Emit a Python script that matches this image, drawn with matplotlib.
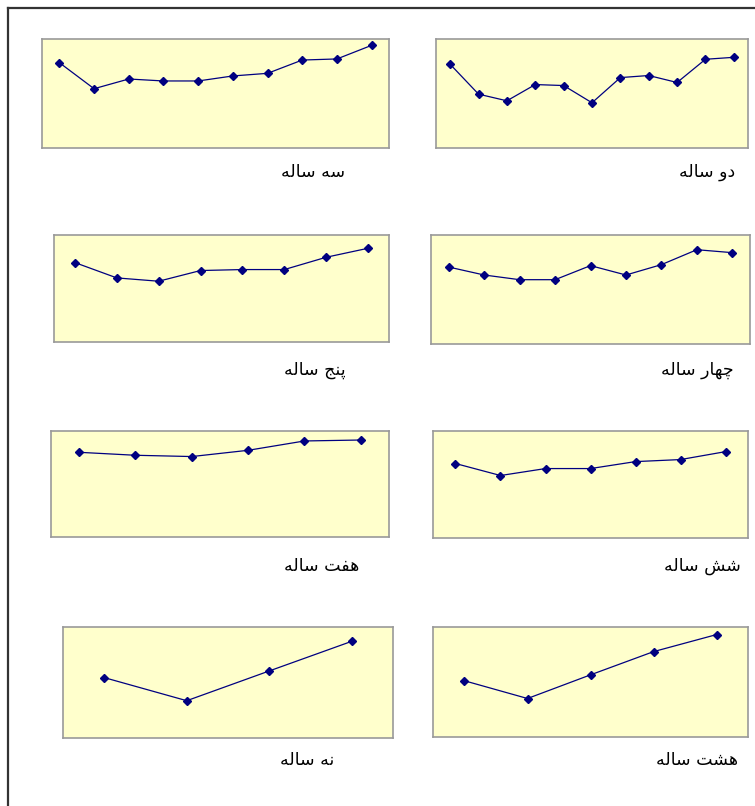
import matplotlib.pyplot as plt
from matplotlib.lines import Line2D

# ----------------------------------
# Data (0-100 scale of each panel)
# ----------------------------------
labels = ["سه ساله", "دو ساله", "پنج ساله", "چهار ساله",
          "هفت ساله", "شش ساله", "نه ساله", "هشت ساله"]

three_year = [78.3, 54.4, 63.3, 61.5, 61.5, 66.1, 68.5, 80.7, 81.7, 94.2]
two_year = [76.8, 49.4, 43.3, 58.2, 57.3, 41.5, 64.6, 66.5, 60.1, 81.4, 83.2]
five_year = [74.2, 59.9, 56.8, 66.8, 67.7, 67.7, 79.2, 87.6]
four_year = [70.6, 63.3, 59.0, 59.0, 71.9, 63.3, 72.8, 86.5, 83.8]
seven_year = [79.9, 77.1, 75.9, 81.8, 90.6, 91.5]
six_year = [69.6, 58.4, 64.9, 64.9, 71.4, 73.3, 80.7]
nine_year = [54.4, 33.6, 60.4, 87.1]
eight_year = [51.1, 35.0, 56.5, 77.6, 93.1]

series = [three_year, two_year, five_year, four_year,
          seven_year, six_year, nine_year, eight_year]

# panel boxes in pixels: left, top, right, bottom  / label centre x, y
boxes = [(42, 39, 389, 148), (436, 39, 748, 148),
         (54, 235, 389, 342), (431, 235, 750, 344),
         (51, 431, 389, 537), (433, 431, 748, 538),
         (63, 627, 393, 738), (433, 627, 748, 737)]
label_pos = [(313, 172), (707, 172), (315, 370), (697, 370),
             (322, 566), (702, 566), (307, 760), (697, 760)]

W, H = 755, 806

# ----------------------------------
# simple Persian shaping (matplotlib has no RTL / joining support)
# forms: isolated, final, initial, medial
# ----------------------------------
forms = {
    "ا": ("\uFE8D", "\uFE8E", None, None),
    "د": ("\uFEA9", "\uFEAA", None, None),
    "ر": ("\uFEAD", "\uFEAE", None, None),
    "و": ("\uFEED", "\uFEEE", None, None),
    "ل": ("\uFEDD", "\uFEDE", "\uFEDF", "\uFEE0"),
    "س": ("\uFEB1", "\uFEB2", "\uFEB3", "\uFEB4"),
    "ش": ("\uFEB5", "\uFEB6", "\uFEB7", "\uFEB8"),
    "ه": ("\uFEE9", "\uFEEA", "\uFEEB", "\uFEEC"),
    "ن": ("\uFEE5", "\uFEE6", "\uFEE7", "\uFEE8"),
    "ج": ("\uFE9D", "\uFE9E", "\uFE9F", "\uFEA0"),
    "ت": ("\uFE95", "\uFE96", "\uFE97", "\uFE98"),
    "ف": ("\uFED1", "\uFED2", "\uFED3", "\uFED4"),
    "پ": ("\uFB56", "\uFB57", "\uFB58", "\uFB59"),
    "چ": ("\uFB7A", "\uFB7B", "\uFB7C", "\uFB7D"),
}


def shape(text):
    out = []
    for i, ch in enumerate(text):
        if ch not in forms:
            out.append(ch)
            continue
        prev = text[i - 1] if i > 0 else " "
        nxt = text[i + 1] if i < len(text) - 1 else " "
        join_prev = prev in forms and forms[prev][2] is not None
        join_next = nxt in forms and forms[ch][2] is not None
        iso, fin, ini, med = forms[ch]
        if join_prev and join_next:
            out.append(med)
        elif join_prev:
            out.append(fin)
        elif join_next:
            out.append(ini)
        else:
            out.append(iso)
    return "".join(out)[::-1]


fig = plt.figure(figsize=(W / 100, H / 100), dpi=100)
fig.patch.set_facecolor("white")

# outer frame (only top and left edges are visible)
fig.add_artist(Line2D([8 / W, 1], [1 - 8 / H, 1 - 8 / H], color="#333333", lw=1.6))
fig.add_artist(Line2D([8 / W, 8 / W], [1 - 8 / H, 0], color="#333333", lw=1.6))

for vals, (l, t, r, b), (lx, ly), name in zip(series, boxes, label_pos, labels):
    ax = fig.add_axes([l / W, 1 - b / H, (r - l) / W, (b - t) / H])
    ax.set_facecolor("#FFFFCC")
    x = list(range(len(vals)))
    ax.plot(x, vals, color="#000080", lw=0.9, marker="D", ms=4.5,
            markerfacecolor="#000080", markeredgecolor="#000080")
    ax.set_xlim(-0.5, len(vals) - 0.5)
    ax.set_ylim(0, 100)
    ax.set_xticks([])
    ax.set_yticks([])
    for s in ax.spines.values():
        s.set_color("#999999")
        s.set_linewidth(1.2)
    fig.text(lx / W, 1 - ly / H, shape(name), ha="center", va="center",
             fontsize=12.5, family="DejaVu Sans")

fig.savefig("out.png", dpi=100)
